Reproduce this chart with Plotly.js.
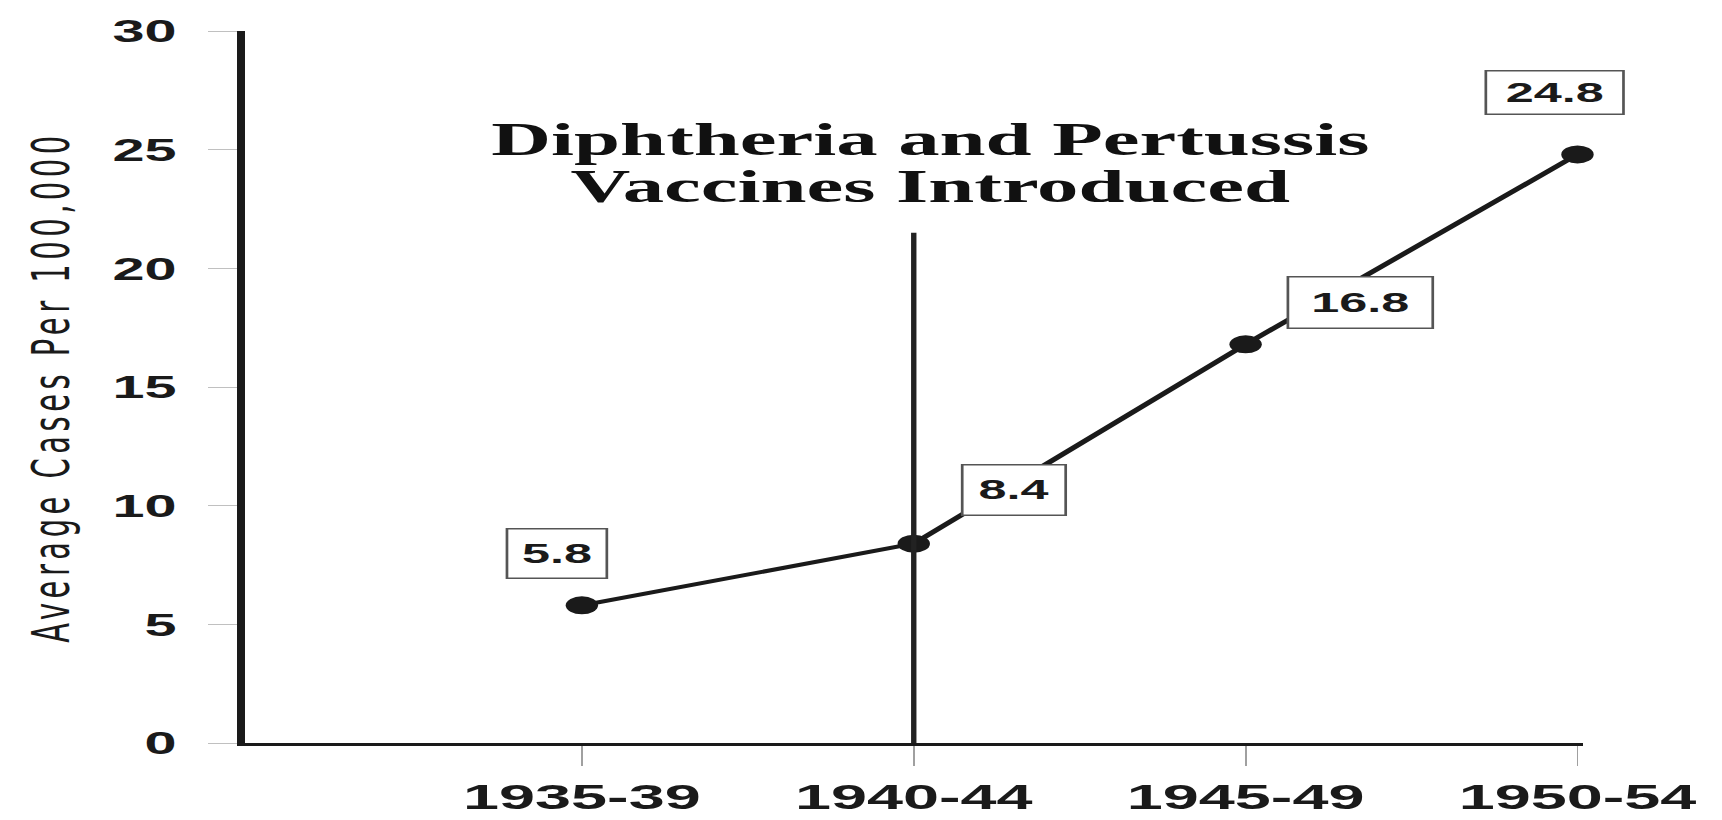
<!DOCTYPE html>
<html>
<head>
<meta charset="utf-8">
<script src="https://cdn.plot.ly/plotly-3.0.1.min.js"></script>
<style>
html,body{margin:0;padding:0;background:#fff;overflow:hidden}
#wrap{width:1722px;height:820px;overflow:hidden;background:#fff}
#chart{width:957px;height:820px;transform:scaleX(1.799373);transform-origin:0 0}
</style>
</head>
<body>
<div id="wrap"><div id="chart"></div></div>
<script>
// ---- data ----
const periods = ['1935-39', '1940-44', '1945-49', '1950-54'];
const cases = [5.8, 8.4, 16.8, 24.8];
const valueLabels = ['5.8', '8.4', '16.8', '24.8'];
const yTickValues = [0, 5, 10, 15, 20, 25, 30];
const vaccinePeriod = '1940-44';
const vaccineLineTop = 21.5;
const noteLines = ['Diphtheria and Pertussis', 'Vaccines Introduced'];
const yTitle = 'Average Cases Per 100,000';

// ---- layout helpers (pixel offsets for value boxes, before horizontal stretch) ----
const boxShift = [[-14, 52], [56, 54], [64, 42], [-13, 62]];
const boxSize = [[54, 48], [56, 49], [79, 50], [75, 42]];

const ink = '#1a1a1a';

const trace = {
  x: periods,
  y: cases,
  type: 'scatter',
  mode: 'lines+markers',
  line: {color: ink, width: 4},
  marker: {color: ink, size: 18},
  cliponaxis: false,
  hoverinfo: 'skip'
};

const annotations = valueLabels.map((t, i) => ({
  x: periods[i], y: cases[i], xref: 'x', yref: 'y',
  text: t, showarrow: false,
  xshift: boxShift[i][0], yshift: boxShift[i][1],
  width: boxSize[i][0], height: boxSize[i][1],
  bgcolor: '#ffffff', bordercolor: '#555', borderwidth: 1.5, borderpad: 0,
  font: {family: 'Liberation Sans, Arial, sans-serif', size: 28, color: ink, weight: 'bold'}
}));

annotations.push({
  x: 0.5115, y: 0.847, xref: 'paper', yref: 'paper', xanchor: 'center', yanchor: 'middle',
  text: noteLines[0], showarrow: false,
  font: {family: 'Liberation Serif, Times New Roman, serif', size: 46, color: '#111', weight: 'bold'}
});
annotations.push({
  x: 0.5115, y: 0.782, xref: 'paper', yref: 'paper', xanchor: 'center', yanchor: 'middle',
  text: noteLines[1], showarrow: false,
  font: {family: 'Liberation Serif, Times New Roman, serif', size: 46, color: '#111', weight: 'bold'}
});

const layout = {
  width: 957, height: 820,
  margin: {l: 136, r: 77, t: 31, b: 77, pad: 0},
  paper_bgcolor: '#ffffff', plot_bgcolor: '#ffffff',
  showlegend: false,
  xaxis: {
    type: 'category',
    range: [-1.016, 3.018],
    showgrid: false, zeroline: false,
    showline: true, linecolor: ink, linewidth: 3,
    ticks: 'outside', ticklen: 20, tickwidth: 1, tickcolor: '#a0a0a0',
    ticklabelstandoff: 0,
    tickfont: {family: 'Liberation Sans, Arial, sans-serif', size: 36, color: ink, weight: 'bold'},
    fixedrange: true
  },
  yaxis: {
    range: [0, 30],
    tickvals: yTickValues,
    ticktext: yTickValues.map(String),
    showgrid: false, zeroline: false,
    showline: true, linecolor: ink, linewidth: 4.5,
    ticks: 'outside', ticklen: 16, tickwidth: 1, tickcolor: '#c0c0c0',
    ticklabelstandoff: 11,
    tickfont: {family: 'Liberation Sans, Arial, sans-serif', size: 32, color: ink, weight: 'bold'},
    title: {
      text: '<span style="letter-spacing:4.5px">' + yTitle + '</span>',
      standoff: 16,
      font: {family: 'DejaVu Sans, sans-serif', size: 29, color: ink}
    },
    automargin: false,
    fixedrange: true
  },
  shapes: [{
    type: 'line', xref: 'x', yref: 'y',
    x0: vaccinePeriod, x1: vaccinePeriod, y0: 0, y1: vaccineLineTop,
    line: {color: '#222', width: 3}
  }],
  annotations: annotations
};

Plotly.newPlot('chart', [trace], layout, {staticPlot: true, displayModeBar: false});
</script>
</body>
</html>
